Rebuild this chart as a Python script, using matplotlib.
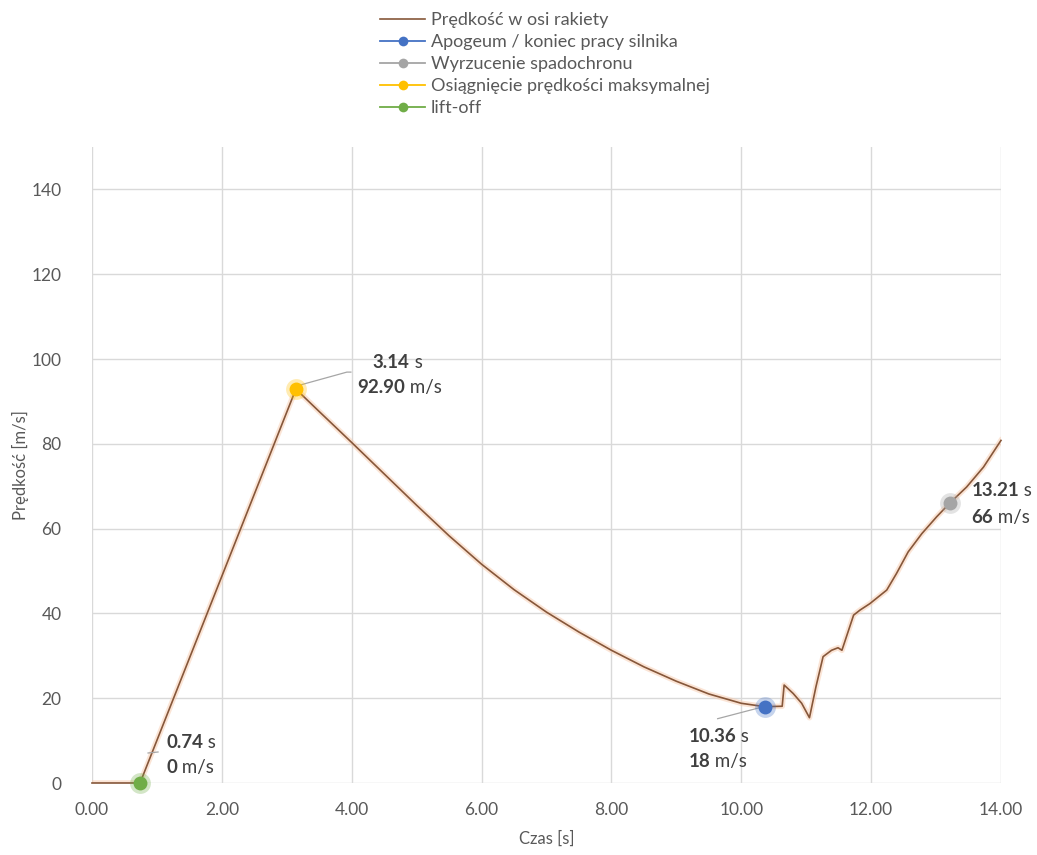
import matplotlib
matplotlib.use("Agg")
import matplotlib.pyplot as plt
from matplotlib.lines import Line2D

plt.rcParams['font.family'] = ['Lato', 'DejaVu Sans']

# ---- data ----
time_s = [0.0, 0.74, 3.14, 3.5, 4.0, 4.5, 5.0, 5.5, 6.0, 6.5, 7.0, 7.5, 8.0, 8.5,
          9.0, 9.5, 10.0, 10.36, 10.63, 10.66, 10.80, 10.93, 11.05, 11.15, 11.26,
          11.39, 11.49, 11.55, 11.73, 11.83, 11.98, 12.24, 12.39, 12.57, 12.78,
          13.01, 13.21, 13.47, 13.73, 14.0]
velocity = [0.0, 0.0, 92.90, 87.6, 80.3, 72.9, 65.5, 58.3, 51.6, 45.6, 40.3, 35.6,
            31.3, 27.4, 24.0, 21.0, 18.8, 18.0, 18.1, 23.1, 21.1, 18.8, 15.4, 22.7,
            29.8, 31.3, 31.9, 31.3, 39.6, 40.8, 42.3, 45.5, 49.4, 54.5, 58.8, 62.8,
            66.0, 69.8, 74.5, 80.8]

event_names = ["Apogeum / koniec pracy silnika", "Wyrzucenie spadochronu",
               "Osiągnięcie prędkości maksymalnej", "lift-off"]
event_t = [10.36, 13.21, 3.14, 0.74]
event_v = [18, 66, 92.90, 0]
event_t_lbl = ["10.36", "13.21", "3.14", "0.74"]
event_v_lbl = ["18", "66", "92.90", "0"]
event_colors = ["#4472C4", "#A5A5A5", "#FFC000", "#70AD47"]

series_name = "Prędkość w osi rakiety"
line_color = "#86573A"

x_ticks = [0, 2, 4, 6, 8, 10, 12, 14]
y_ticks = [0, 20, 40, 60, 80, 100, 120, 140]

# ---- figure ----
W, H = 1037, 855
fig = plt.figure(figsize=(W / 100, H / 100), dpi=100)
ax = fig.add_axes([92 / W, 72 / H, 909 / W, 636 / H])

ax.set_xlim(0, 14)
ax.set_ylim(0, 150)
ax.set_xticks(x_ticks)
ax.set_yticks(y_ticks)
ax.set_xticklabels([f"{v:.2f}" for v in x_ticks])
ax.set_yticklabels([str(v) for v in y_ticks])
for s in ax.spines.values():
    s.set_visible(False)
ax.grid(True, color="#D9D9D9", lw=1.0)
ax.set_axisbelow(True)
ax.tick_params(length=0, labelsize=12.5, labelcolor="#595959")
ax.tick_params(axis='y', pad=22)
ax.tick_params(axis='x', pad=14)
ax.set_xlabel("Czas [s]", fontsize=12, color="#595959", labelpad=9)
ax.set_ylabel("Prędkość [m/s]", fontsize=12, color="#595959", labelpad=1.5)

# line with glow
ax.plot(time_s, velocity, color="#F8CBAD", lw=4.0, alpha=0.5, solid_joinstyle='round', zorder=2)
ax.plot(time_s, velocity, color=line_color, lw=1.2, zorder=3, clip_on=False,
        solid_joinstyle='round')

# event markers with glow
for t, v, c in zip(event_t, event_v, event_colors):
    ax.plot([t], [v], 'o', ms=15, color=c, alpha=0.3, mec='none', zorder=4, clip_on=False)
    ax.plot([t], [v], 'o', ms=10, color=c, mec='none', zorder=5, clip_on=False)

# labels: offsets in pixels (first line, second line)
offsets = {
    "10.36": ((-76, -30), (-76, -55)),
    "13.21": ((22, 13), (22, -14)),
    "3.14": ((77, 27), (61, 2)),
    "0.74": ((26, 41), (26, 16)),
}
txt_col = "#404040"
fs = 13.5
for t, v, tl, vl in zip(event_t, event_v, event_t_lbl, event_v_lbl):
    (o1, o2) = offsets[tl]
    a = ax.annotate(tl, xy=(t, v), xytext=o1, textcoords='offset pixels',
                    fontsize=fs, fontweight='bold', color=txt_col, va='center', ha='left',
                    annotation_clip=False, zorder=6)
    ax.annotate(" s", xy=(1, 0.5), xycoords=a, fontsize=fs, color=txt_col,
                va='center', ha='left', annotation_clip=False)
    b = ax.annotate(vl, xy=(t, v), xytext=o2, textcoords='offset pixels',
                    fontsize=fs, fontweight='bold', color=txt_col, va='center', ha='left',
                    annotation_clip=False, zorder=6)
    ax.annotate(" m/s", xy=(1, 0.5), xycoords=b, fontsize=fs, color=txt_col,
                va='center', ha='left', annotation_clip=False)

# leader lines (pixel offsets from points)
leaders = {
    "3.14": [(4, 4), (51, 17), (55, 17)],
    "10.36": [(-47, -12), (-5, -1)],
    "0.74": [(8, 30), (18, 31)],
}
for t, v, tl in zip(event_t, event_v, event_t_lbl):
    if tl in leaders:
        pts = leaders[tl]
        base = ax.transData.transform((t, v))
        disp = [(base[0] + dx, base[1] + dy) for dx, dy in pts]
        data = ax.transData.inverted().transform(disp)
        ax.plot(data[:, 0], data[:, 1], color="#A6A6A6", lw=0.9, zorder=3, clip_on=False)

# legend
handles = [Line2D([], [], color=line_color, lw=1.2)]
for c in event_colors:
    handles.append(Line2D([], [], color=c, lw=1.3, marker='o', ms=7, mec='none'))
labels = [series_name] + event_names
fig.legend(handles, labels, loc='upper left', bbox_to_anchor=(380 / W, 1 - 12 / H),
           frameon=False, fontsize=13, handlelength=2.5, handletextpad=0.3,
           labelspacing=0.33, borderpad=0, borderaxespad=0, labelcolor="#595959")

fig.savefig("out.png", dpi=100)
